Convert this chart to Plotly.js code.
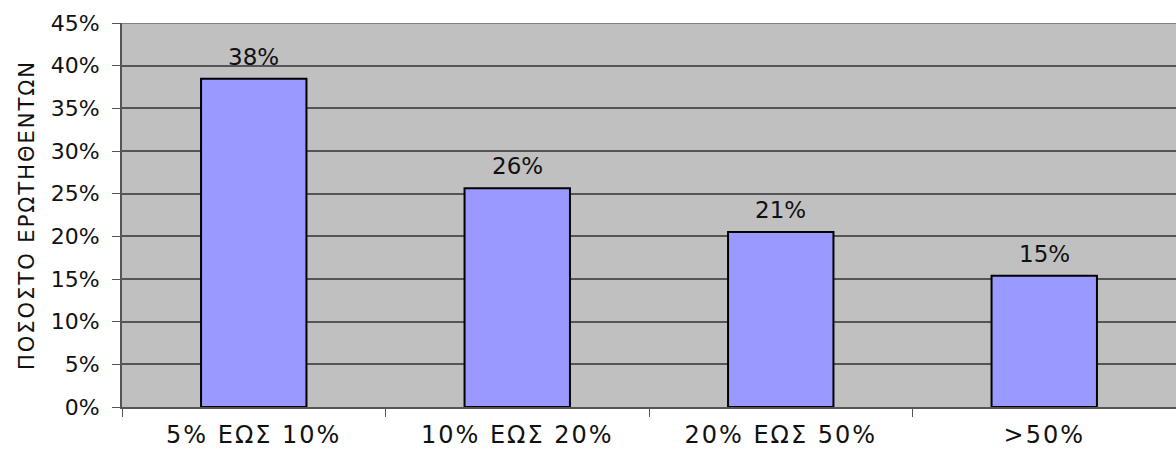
<!DOCTYPE html>
<html>
<head>
<meta charset="utf-8">
<script src="https://cdn.plot.ly/plotly-3.0.1.min.js"></script>
<style>
html,body{margin:0;padding:0;background:#fff;}
#chart{width:1176px;height:451px;}
#chart .xtick text{letter-spacing:2px;}
#chart .ytitle{letter-spacing:2px;}
</style>
</head>
<body>
<div id="chart"></div>
<script>
const categories = ["5% ΕΩΣ 10%", "10% ΕΩΣ 20%", "20% ΕΩΣ 50%", ">50%"];
const values = [38.46, 25.64, 20.51, 15.38];
const labels = ["38%", "26%", "21%", "15%"];
const yTicks = [0, 5, 10, 15, 20, 25, 30, 35, 40, 45];
const yTitle = "ΠΟΣΟΣΤΟ ΕΡΩΤΗΘΕΝΤΩΝ";

const fam = "DejaVu Sans, Verdana, sans-serif";

const trace = {
  type: "bar",
  x: categories,
  y: values,
  width: 0.4,
  marker: {color: "#9999ff", line: {color: "#000", width: 2}},
  hoverinfo: "skip"
};

const annotations = categories.map((c, i) => ({
  x: c, y: values[i], xref: "x", yref: "y",
  text: labels[i], showarrow: false, yanchor: "bottom", yshift: 7,
  font: {family: fam, size: 23, color: "#111"}
}));

const layout = {
  width: 1176, height: 451,
  margin: {l: 122, r: 0, t: 23, b: 44, pad: 0},
  paper_bgcolor: "#ffffff",
  plot_bgcolor: "#c0c0c0",
  font: {family: fam, size: 22, color: "#111"},
  showlegend: false,
  xaxis: {
    type: "category",
    tickson: "boundaries",
    ticks: "outside", ticklen: 8, tickcolor: "#555", tickwidth: 1,
    ticklabelstandoff: 5,
    showgrid: false,
    showline: true, linecolor: "#555", linewidth: 2,
    tickfont: {family: fam, size: 24, color: "#111"},
    fixedrange: true
  },
  yaxis: {
    range: [0, 45],
    tickvals: yTicks,
    ticktext: yTicks.map(v => v + "%"),
    ticks: "outside", ticklen: 8, tickcolor: "#555", tickwidth: 1,
    ticklabelstandoff: 8,
    showgrid: true, gridcolor: "#555555", gridwidth: 2,
    showline: true, linecolor: "#555", linewidth: 2,
    zeroline: false,
    tickfont: {family: fam, size: 22, color: "#111"},
    title: {text: yTitle, font: {family: fam, size: 21, color: "#111"}, standoff: 10},
    fixedrange: true
  },
  annotations: annotations,
  shapes: [{type: "line", xref: "paper", yref: "y", x0: 0, x1: 1, y0: 45, y1: 45, line: {color: "#808080", width: 2}}]
};

Plotly.newPlot("chart", [trace], layout, {displayModeBar: false, staticPlot: true});
</script>
</body>
</html>
